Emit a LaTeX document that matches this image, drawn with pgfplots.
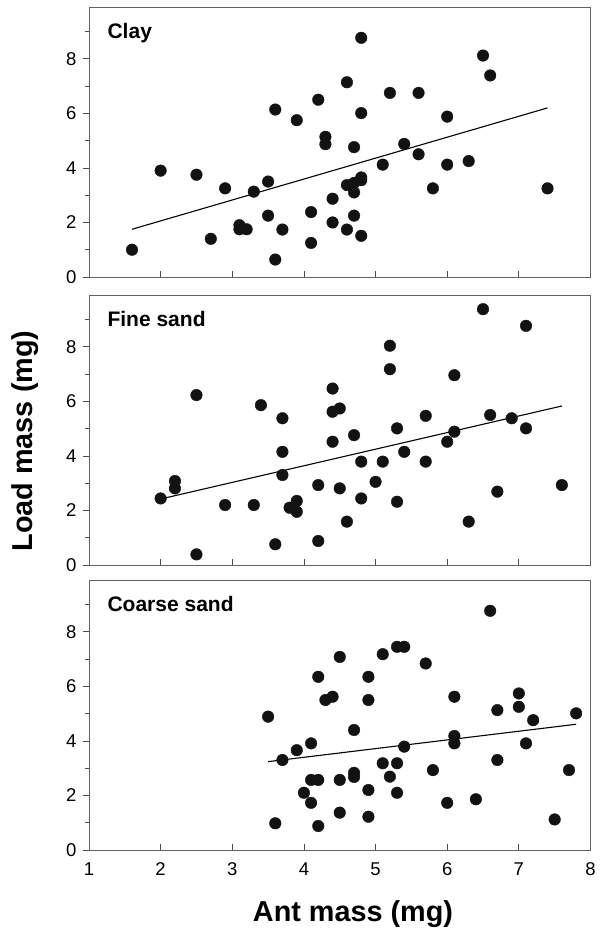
\documentclass[border=0pt]{standalone}
\usepackage{fontspec}
\setmainfont{Liberation Sans}
\usepackage{pgfplots}
\pgfplotsset{compat=1.18}

\pgfplotsset{
  panel/.style={
    scale only axis, width=501.5pt, height=270pt,
    xmin=1, xmax=8, ymin=0, ymax=9.9,
    xtick={1,...,8}, ytick={0,2,...,8}, minor ytick={1,3,...,9},
    xtick pos=bottom, ytick pos=left,
    xtick align=inside, ytick align=outside,
    major tick length=6pt, minor tick length=4pt,
    axis line style={black!62, line width=0.9pt},
    every tick/.style={black!70, line width=0.8pt},
    tick label style={font=\fontsize{18.5}{19}\selectfont},
    /pgf/number format/assume math mode=true,
    xticklabel shift=9pt, yticklabel shift=3pt,
  },
  dots/.style={only marks, mark=*, mark size=5.8pt,
    mark options={fill=black!93, draw=black!93}},
  fit/.style={black, line width=1.1pt, no marks},
}
\newcommand{\panellabel}[1]{\node[anchor=base west, font=\fontsize{21}{24}\selectfont\bfseries]
  at (rel axis cs:0.03,0.884) {#1};}

\begin{document}
\begin{tikzpicture}
\useasboundingbox (0,0) rectangle (601pt,930pt);

% Clay
\begin{axis}[panel, at={(89pt,653pt)}, anchor=south west, xticklabels={}]
  \addplot[dots] coordinates {
    (1.6,1.0) (2.0,3.9) (2.5,3.75) (2.7,1.4) (2.9,3.25) (3.1,1.9) (3.1,1.75)
    (3.2,1.75) (3.3,3.13) (3.5,3.5) (3.5,2.25) (3.6,6.14) (3.6,0.64) (3.7,1.74)
    (3.9,5.75) (4.1,2.38) (4.1,1.25) (4.2,6.5) (4.3,5.14) (4.3,4.87) (4.4,2.87)
    (4.4,2.0) (4.6,7.14) (4.6,3.37) (4.6,1.74) (4.7,4.76) (4.7,3.45) (4.7,3.1)
    (4.8,3.55) (4.8,3.65) (4.7,2.25) (4.8,8.77) (4.8,6.01) (4.8,1.51) (5.1,4.12)
    (5.2,6.75) (5.4,4.88) (5.6,6.75) (5.6,4.5) (5.8,3.25) (6.0,5.88) (6.0,4.12)
    (6.3,4.25) (6.5,8.12) (6.6,7.39) (7.4,3.25)
  };
  \addplot[fit] coordinates {(1.6,1.75) (7.4,6.2)};
  \panellabel{Clay}
\end{axis}

% Fine sand
\begin{axis}[panel, at={(89pt,365pt)}, anchor=south west, xticklabels={}]
  \addplot[dots] coordinates {
    (2.0,2.44) (2.2,3.08) (2.2,2.81) (2.5,6.23) (2.5,0.39) (2.9,2.2) (3.3,2.2)
    (3.4,5.86) (3.6,0.76) (3.7,5.38) (3.7,4.15) (3.7,3.3) (3.8,2.1) (3.9,2.35)
    (3.9,1.95) (4.2,2.93) (4.2,0.88) (4.4,6.47) (4.4,5.62) (4.5,5.74) (4.4,4.52)
    (4.5,2.81) (4.6,1.59) (4.7,4.76) (4.8,3.79) (4.8,2.44) (5.0,3.05) (5.1,3.79)
    (5.2,8.04) (5.2,7.18) (5.3,5.01) (5.3,2.32) (5.4,4.15) (5.7,5.47) (5.7,3.79)
    (6.0,4.52) (6.1,6.96) (6.1,4.89) (6.3,1.59) (6.5,9.38) (6.6,5.5) (6.7,2.69)
    (6.9,5.38) (7.1,8.77) (7.1,5.01) (7.6,2.93)
  };
  \addplot[fit] coordinates {(2.0,2.42) (7.6,5.83)};
  \panellabel{Fine sand}
\end{axis}

% Coarse sand
\begin{axis}[panel, at={(89pt,80pt)}, anchor=south west]
  \addplot[dots] coordinates {
    (3.5,4.89) (3.6,0.98) (3.7,3.3) (3.9,3.66) (4.0,2.1) (4.1,3.91) (4.1,2.57)
    (4.1,1.73) (4.2,2.57) (4.2,6.35) (4.2,0.88) (4.3,5.5) (4.4,5.62) (4.5,7.08)
    (4.5,2.57) (4.5,1.37) (4.7,4.4) (4.7,2.83) (4.7,2.68) (4.9,6.35) (4.9,5.5)
    (4.9,2.2) (4.9,1.22) (5.1,7.18) (5.1,3.18) (5.2,2.69) (5.3,7.45) (5.4,7.45)
    (5.3,3.18) (5.3,2.1) (5.4,3.79) (5.7,6.84) (5.8,2.93) (6.0,1.73) (6.1,5.62)
    (6.1,4.18) (6.1,3.91) (6.4,1.86) (6.6,8.77) (6.7,5.13) (6.7,3.3) (7.0,5.74)
    (7.0,5.25) (7.1,3.91) (7.2,4.76) (7.5,1.12) (7.7,2.93) (7.8,5.01)
  };
  \addplot[fit] coordinates {(3.5,3.24) (7.8,4.61)};
  \panellabel{Coarse sand}
\end{axis}

\node[rotate=90, anchor=base, font=\fontsize{28.8}{32}\selectfont\bfseries]
  at (32pt,489pt) {Load mass (mg)};
\node[anchor=base, font=\fontsize{28.8}{32}\selectfont\bfseries]
  at (353pt,9pt) {Ant mass (mg)};
\end{tikzpicture}
\end{document}
